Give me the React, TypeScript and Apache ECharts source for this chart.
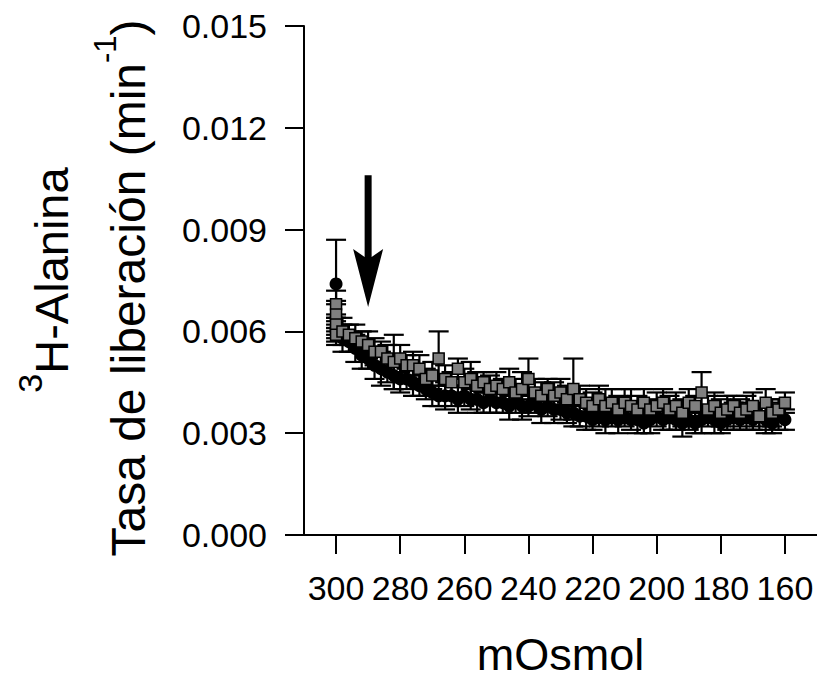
import React, { useEffect, useRef } from "react";
import * as echarts from "echarts";

// ---- data ----
const xTicks = [300, 280, 260, 240, 220, 200, 180, 160];
const yTicks = [0, 0.003, 0.006, 0.009, 0.012, 0.015];

// mOsmol for each point: four baseline points at 300, then 298 .. 160 every 2
const circleX = [300, 300, 300, 300, 298, 296, 294, 292, 290, 288, 286, 284, 282, 280, 278, 276, 274, 272, 270, 268, 266, 264, 262, 260, 258, 256, 254, 252, 250, 248, 246, 244, 242, 240, 238, 236, 234, 232, 230, 228, 226, 224, 222, 220, 218, 216, 214, 212, 210, 208, 206, 204, 202, 200, 198, 196, 194, 192, 190, 188, 186, 184, 182, 180, 178, 176, 174, 172, 170, 168, 166, 164, 162, 160];
const circleY = [0.0074, 0.0064, 0.0061, 0.006, 0.0058, 0.0057, 0.0055, 0.0053, 0.0052, 0.005, 0.0049, 0.0048, 0.0047, 0.0046, 0.0046, 0.0045, 0.0044, 0.0043, 0.0042, 0.0041, 0.0041, 0.0041, 0.004, 0.0041, 0.004, 0.004, 0.0039, 0.004, 0.0039, 0.0039, 0.0038, 0.0039, 0.0038, 0.0038, 0.0039, 0.0037, 0.0038, 0.0037, 0.0037, 0.0036, 0.0036, 0.0035, 0.0035, 0.0034, 0.0035, 0.0034, 0.0035, 0.0034, 0.0035, 0.0034, 0.0034, 0.0033, 0.0034, 0.0035, 0.0034, 0.0035, 0.0034, 0.0033, 0.0034, 0.0033, 0.0034, 0.0035, 0.0034, 0.0033, 0.0034, 0.0035, 0.0034, 0.0035, 0.0034, 0.0035, 0.0034, 0.0033, 0.0035, 0.0034];
const circleErr = [0.0013, 0.0004, 0.0003, 0.0003, 0.0004, 0.0003, 0.0004, 0.0004, 0.0003, 0.0004, 0.0005, 0.0003, 0.0004, 0.0004, 0.0003, 0.0004, 0.0003, 0.0003, 0.0004, 0.0003, 0.0004, 0.0003, 0.0004, 0.0003, 0.0003, 0.0004, 0.0003, 0.0004, 0.0003, 0.0003, 0.0004, 0.0003, 0.0004, 0.0003, 0.0003, 0.0004, 0.0003, 0.0004, 0.0003, 0.0003, 0.0004, 0.0003, 0.0004, 0.0003, 0.0003, 0.0004, 0.0003, 0.0004, 0.0003, 0.0003, 0.0004, 0.0003, 0.0004, 0.0003, 0.0003, 0.0004, 0.0003, 0.0004, 0.0003, 0.0003, 0.0004, 0.0003, 0.0004, 0.0003, 0.0003, 0.0004, 0.0003, 0.0004, 0.0003, 0.0003, 0.0004, 0.0003, 0.0004, 0.0003];

const squareX = [300, 300, 300, 300, 298, 296, 294, 292, 290, 288, 286, 284, 282, 280, 278, 276, 274, 272, 270, 268, 266, 264, 262, 260, 258, 256, 254, 252, 250, 248, 246, 244, 242, 240, 238, 236, 234, 232, 230, 228, 226, 224, 222, 220, 218, 216, 214, 212, 210, 208, 206, 204, 202, 200, 198, 196, 194, 192, 190, 188, 186, 184, 182, 180, 178, 176, 174, 172, 170, 168, 166, 164, 162, 160];
const squareY = [0.0068, 0.0065, 0.0062, 0.0059, 0.006, 0.0059, 0.0058, 0.0057, 0.0056, 0.0054, 0.0054, 0.0052, 0.0051, 0.0052, 0.005, 0.005, 0.0049, 0.0046, 0.0047, 0.0052, 0.0046, 0.0045, 0.0049, 0.0045, 0.0046, 0.0044, 0.0045, 0.0043, 0.0044, 0.0043, 0.0045, 0.0042, 0.0043, 0.0046, 0.0042, 0.0041, 0.0043, 0.0041, 0.0042, 0.004, 0.0043, 0.004, 0.0039, 0.0038, 0.004, 0.0038, 0.0039, 0.0037, 0.0039, 0.0038, 0.0037, 0.0039, 0.0037, 0.0038, 0.0039, 0.0037, 0.0038, 0.0036, 0.0039, 0.0038, 0.0042, 0.0037, 0.0038, 0.0036, 0.0037, 0.0038, 0.0036, 0.0037, 0.0038, 0.0035, 0.0039, 0.0036, 0.0037, 0.0039];
const squareErr = [0.0004, 0.0004, 0.0003, 0.0003, 0.0004, 0.0003, 0.0004, 0.0003, 0.0004, 0.0004, 0.0003, 0.0004, 0.0008, 0.0004, 0.0003, 0.0004, 0.0004, 0.0003, 0.0004, 0.0008, 0.0004, 0.0003, 0.0003, 0.0004, 0.0005, 0.0004, 0.0003, 0.0004, 0.0004, 0.0003, 0.0004, 0.0004, 0.0005, 0.0006, 0.0004, 0.0004, 0.0003, 0.0004, 0.0004, 0.0004, 0.0009, 0.0004, 0.0004, 0.0004, 0.0004, 0.0005, 0.0004, 0.0004, 0.0004, 0.0005, 0.0004, 0.0004, 0.0003, 0.0004, 0.0004, 0.0004, 0.0004, 0.0004, 0.0004, 0.0003, 0.0006, 0.0004, 0.0004, 0.0004, 0.0004, 0.0003, 0.0004, 0.0004, 0.0004, 0.0004, 0.0004, 0.0004, 0.0003, 0.0003];

// arrow marking the hypotonic stimulus: [mOsmol, top, tip]
const arrowData = [[290, 0.0106, 0.00672]];

export default function App() {
  const ref = useRef<HTMLDivElement>(null);
  useEffect(() => {
    document.body.style.margin = "0";
    const chart = echarts.init(ref.current!, null, { renderer: "svg" });

    const errData = (xs: number[], ys: number[], es: number[]) =>
      xs.map((x, i) => [x, ys[i] - es[i], ys[i] + es[i]]);

    const errRender = (params: any, api: any) => {
      const x = api.value(0);
      const lo = api.coord([x, api.value(1)]);
      const hi = api.coord([x, api.value(2)]);
      const w = 10;
      const st = { stroke: "#000", lineWidth: 2.2 };
      return {
        type: "group",
        children: [
          { type: "line", shape: { x1: hi[0], y1: hi[1], x2: lo[0], y2: lo[1] }, style: st },
          { type: "line", shape: { x1: hi[0] - w, y1: hi[1], x2: hi[0] + w, y2: hi[1] }, style: st },
          { type: "line", shape: { x1: lo[0] - w, y1: lo[1], x2: lo[0] + w, y2: lo[1] }, style: st },
        ],
      };
    };

    const arrowRender = (params: any, api: any) => {
      const x = api.value(0);
      const top = api.coord([x, api.value(1)]);
      const tip = api.coord([x, api.value(2)]);
      const headLen = 58;
      const headHalf = 15;
      const shaft = 3.5;
      return {
        type: "group",
        children: [
          {
            type: "polygon",
            shape: {
              points: [
                [top[0] - shaft, top[1]],
                [top[0] + shaft, top[1]],
                [top[0] + shaft, tip[1] - headLen + 8],
                [top[0] + headHalf, tip[1] - headLen],
                [tip[0], tip[1]],
                [top[0] - headHalf, tip[1] - headLen],
                [top[0] - shaft, tip[1] - headLen + 8],
              ],
            },
            style: { fill: "#000" },
          },
        ],
      };
    };

    const font = "Liberation Sans";
    chart.setOption({
      animation: false,
      backgroundColor: "#fff",
      grid: { left: 304, right: 0, top: 26, bottom: 144, containLabel: false, outerBoundsMode: "none" },
      xAxis: {
        type: "value",
        inverse: true,
        min: 150,
        max: 310,
        name: "mOsmol",
        nameLocation: "middle",
        nameGap: 96,
        nameTextStyle: { fontFamily: font, fontSize: 45, lineHeight: 46, color: "#000" },
        axisLine: { show: true, onZero: false, lineStyle: { color: "#000", width: 2 } },
        axisTick: { show: true, inside: false, length: 19, customValues: xTicks, lineStyle: { color: "#000", width: 2 } },
        axisLabel: {
          show: true,
          customValues: xTicks,
          margin: 36,
          fontFamily: "Liberation Sans Narrow, Arial Narrow, Liberation Sans",
          fontSize: 34,
          color: "#000",
          hideOverlap: false,
        },
        splitLine: { show: false },
      },
      yAxis: {
        type: "value",
        min: 0,
        max: 0.015,
        interval: 0.003,
        axisLine: { show: true, onZero: false, lineStyle: { color: "#000", width: 2 } },
        axisTick: { show: true, inside: false, length: 19, lineStyle: { color: "#000", width: 2 } },
        axisLabel: {
          margin: 37,
          fontFamily: font,
          fontSize: 34,
          color: "#000",
          formatter: (v: number) => v.toFixed(3),
        },
        splitLine: { show: false },
      },
      graphic: [
        {
          type: "text",
          x: 121,
          y: 288,
          rotation: Math.PI / 2,
          style: {
            text: "{m|Tasa de liberación (min}{s|-1}{m|)}",
            align: "center",
            verticalAlign: "middle",
            textAlign: "center",
            textVerticalAlign: "middle",
            fill: "#000",
            rich: {
              m: { fontFamily: font, fontSize: 48, fill: "#000", lineHeight: 62, verticalAlign: "bottom" },
              s: { fontFamily: font, fontSize: 31, fill: "#000", lineHeight: 62, verticalAlign: "top" },
            },
          },
        },
        {
          type: "text",
          x: 44,
          y: 280,
          rotation: Math.PI / 2,
          style: {
            text: "{s|3}{m|H-Alanina}",
            align: "center",
            verticalAlign: "middle",
            textAlign: "center",
            textVerticalAlign: "middle",
            fill: "#000",
            rich: {
              m: { fontFamily: font, fontSize: 47, fill: "#000", lineHeight: 62, verticalAlign: "bottom" },
              s: { fontFamily: font, fontSize: 34, fill: "#000", lineHeight: 62, verticalAlign: "top" },
            },
          },
        },
      ],
      series: [
        {
          type: "custom",
          name: "circleErr",
          renderItem: errRender,
          data: errData(circleX, circleY, circleErr),
          encode: { x: 0, y: [1, 2] },
          z: 1,
        },
        {
          type: "scatter",
          name: "circles",
          data: circleX.map((x, i) => [x, circleY[i]]),
          symbol: "circle",
          symbolSize: 13,
          itemStyle: { color: "#000", opacity: 1 },
          z: 2,
        },
        {
          type: "custom",
          name: "squareErr",
          renderItem: errRender,
          data: errData(squareX, squareY, squareErr),
          encode: { x: 0, y: [1, 2] },
          z: 3,
        },
        {
          type: "scatter",
          name: "squares",
          data: squareX.map((x, i) => [x, squareY[i]]),
          symbol: "rect",
          symbolSize: 11,
          itemStyle: { color: "#808080", borderColor: "#000", borderWidth: 1.5, opacity: 1 },
          z: 4,
        },
        {
          type: "custom",
          name: "arrow",
          renderItem: arrowRender,
          data: arrowData,
          encode: { x: 0, y: [1, 2] },
          z: 5,
        },
      ],
    });
    return () => chart.dispose();
  }, []);
  return <div ref={ref} style={{ width: 817, height: 679 }} />;
}
